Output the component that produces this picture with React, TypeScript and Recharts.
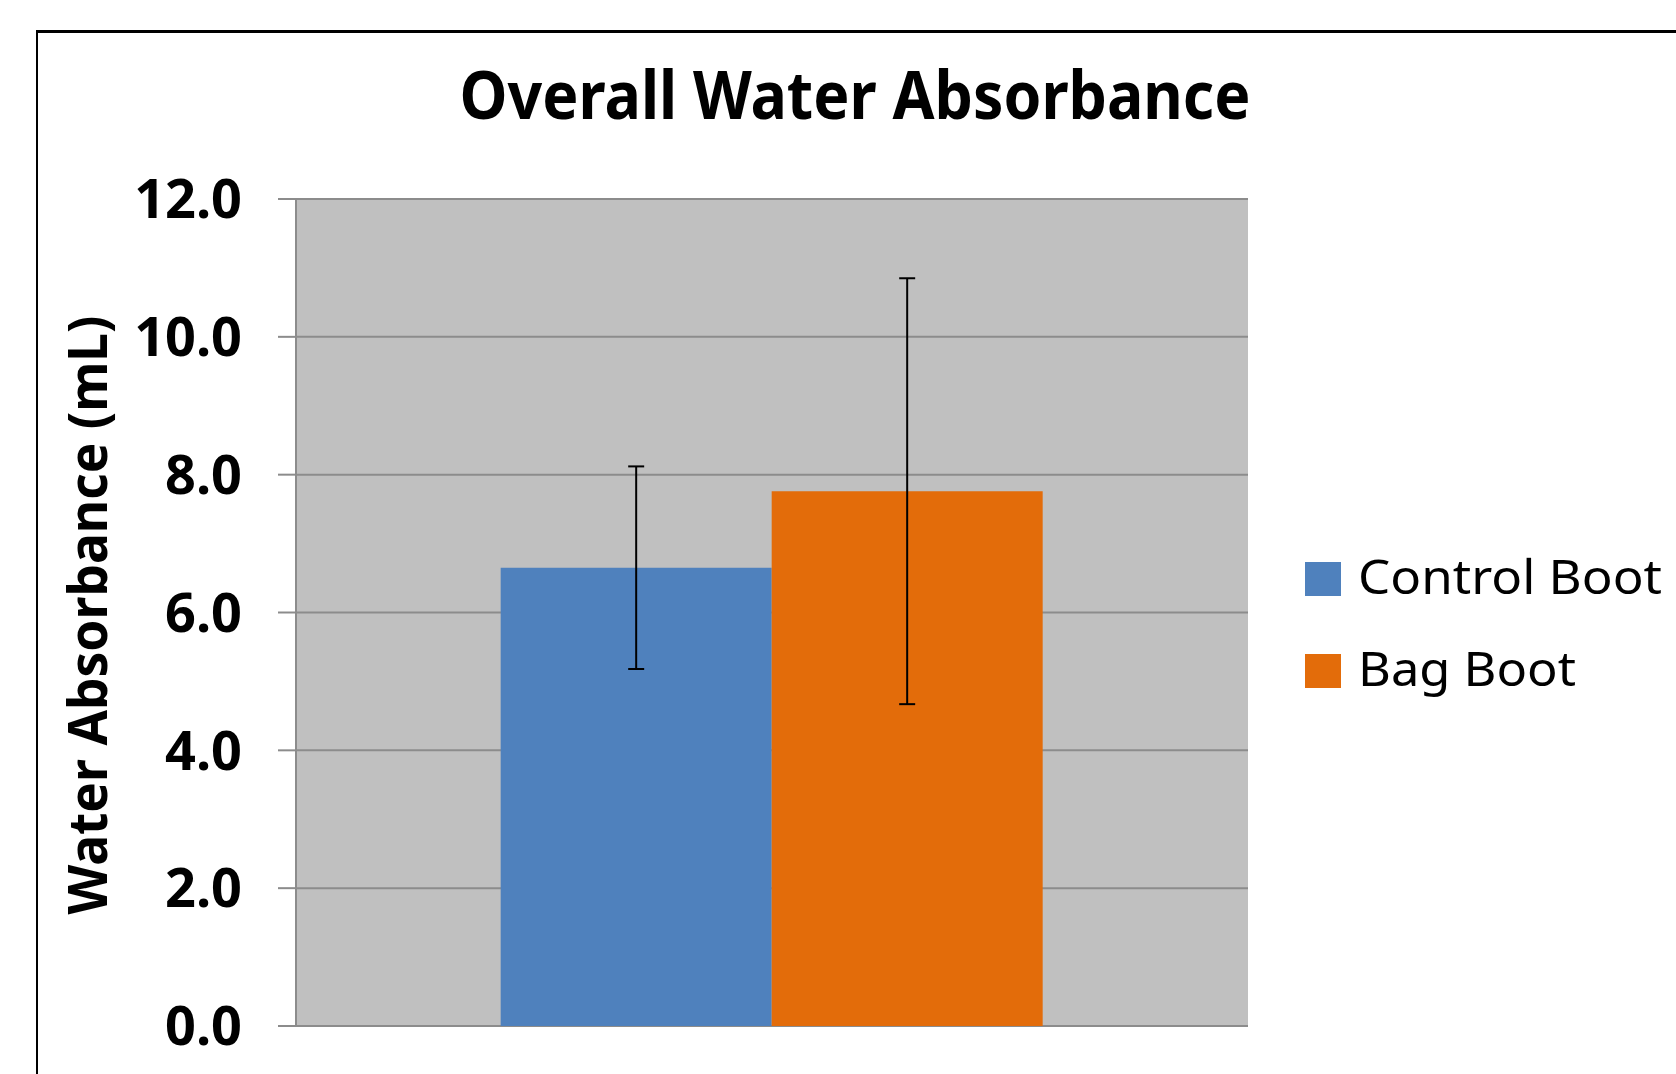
import { BarChart, Bar, XAxis, YAxis, CartesianGrid, Legend, ErrorBar } from "recharts";

const categories = ["Overall"];
const controlBoot = [6.65];
const bagBoot = [7.76];
const controlErr = [1.47];
const bagErr = [3.09];
const yTicks = [0, 2, 4, 6, 8, 10, 12];
const seriesNames = ["Control Boot", "Bag Boot"];
const seriesColors = ["#4f81bd", "#e36c0a"];

const data = categories.map((name, i) => ({
  name,
  control: controlBoot[i],
  bag: bagBoot[i],
  controlErr: controlErr[i],
  bagErr: bagErr[i],
}));

const font = "'Noto Sans', 'DejaVu Sans', sans-serif";
const legendWidths = [304, 218];

function BootLegend({ payload }: any) {
  // keep series order (control first), recharts sorts by name otherwise
  const items = [...(payload ?? [])].sort(
    (a: any, b: any) => seriesNames.indexOf(a.value) - seriesNames.indexOf(b.value)
  );
  return (
    <svg width={386} height={200}>
      {items.map((p: any, i: number) => (
        <g key={p.value}>
          <rect x={15} y={22 + i * 92} width={36} height={34} fill={p.color} />
          <text
            x={68}
            y={54 + i * 92}
            fontSize={48}
            fontFamily={font}
            fill="#000"
            textLength={legendWidths[i]}
            lengthAdjust="spacingAndGlyphs"
          >
            {p.value}
          </text>
        </g>
      ))}
    </svg>
  );
}

export default function App() {
  return (
    <div style={{ position: "absolute", left: 0, top: 0, width: 1676, height: 1074, overflow: "hidden", background: "#fff" }}>
      <div
        style={{
          position: "absolute",
          left: 36,
          top: 30,
          width: 1700,
          height: 1100,
          borderTop: "3px solid #000",
          borderLeft: "2px solid #000",
        }}
      />
      <svg width={1676} height={1074} style={{ position: "absolute", left: 0, top: 0 }}>
        <text
          x={855}
          y={119}
          textAnchor="middle"
          fontSize={66}
          fontWeight="bold"
          fontFamily={font}
          textLength={791}
          lengthAdjust="spacingAndGlyphs"
        >
          Overall Water Absorbance
        </text>
        <text
          x={107}
          y={615}
          transform="rotate(-90, 107, 615)"
          textAnchor="middle"
          fontSize={54}
          fontWeight="bold"
          fontFamily={font}
          textLength={599}
          lengthAdjust="spacingAndGlyphs"
        >
          Water Absorbance (mL)
        </text>
      </svg>
      <div style={{ position: "absolute", left: 0, top: 0 }}>
        <BarChart
          width={1676}
          height={1074}
          data={data}
          margin={{ top: 199, right: 428, left: 0, bottom: 48 }}
          barCategoryGap="21.5%"
          barGap={0}
        >
          <CartesianGrid
            vertical={false}
            stroke="#8c8c8c"
            strokeWidth={2}
            fill="#c0c0c0"
            fillOpacity={1}
          />
          <XAxis dataKey="name" tick={false} tickLine={false} height={0} axisLine={{ stroke: "#8c8c8c", strokeWidth: 3 }} />
          <YAxis
            width={296}
            domain={[0, 12]}
            ticks={yTicks}
            interval={0}
            tickSize={18}
            tickMargin={36}
            tickFormatter={(v: number) => v.toFixed(1)}
            tick={{ fill: "#000", fontSize: 54, fontWeight: "bold", fontFamily: font }}
            axisLine={{ stroke: "#8c8c8c", strokeWidth: 2 }}
            tickLine={{ stroke: "#8c8c8c", strokeWidth: 2 }}
          />
          <Legend
            layout="horizontal"
            align="center"
            verticalAlign="middle"
            content={<BootLegend />}
            wrapperStyle={{ position: "absolute", left: 1290, top: 540, width: 386, height: 200 }}
          />
          <Bar dataKey="control" name={seriesNames[0]} fill={seriesColors[0]} isAnimationActive={false}>
            <ErrorBar dataKey="controlErr" width={8} stroke="#000" strokeWidth={2} direction="y" />
          </Bar>
          <Bar dataKey="bag" name={seriesNames[1]} fill={seriesColors[1]} isAnimationActive={false}>
            <ErrorBar dataKey="bagErr" width={8} stroke="#000" strokeWidth={2} direction="y" />
          </Bar>
        </BarChart>
      </div>
    </div>
  );
}
